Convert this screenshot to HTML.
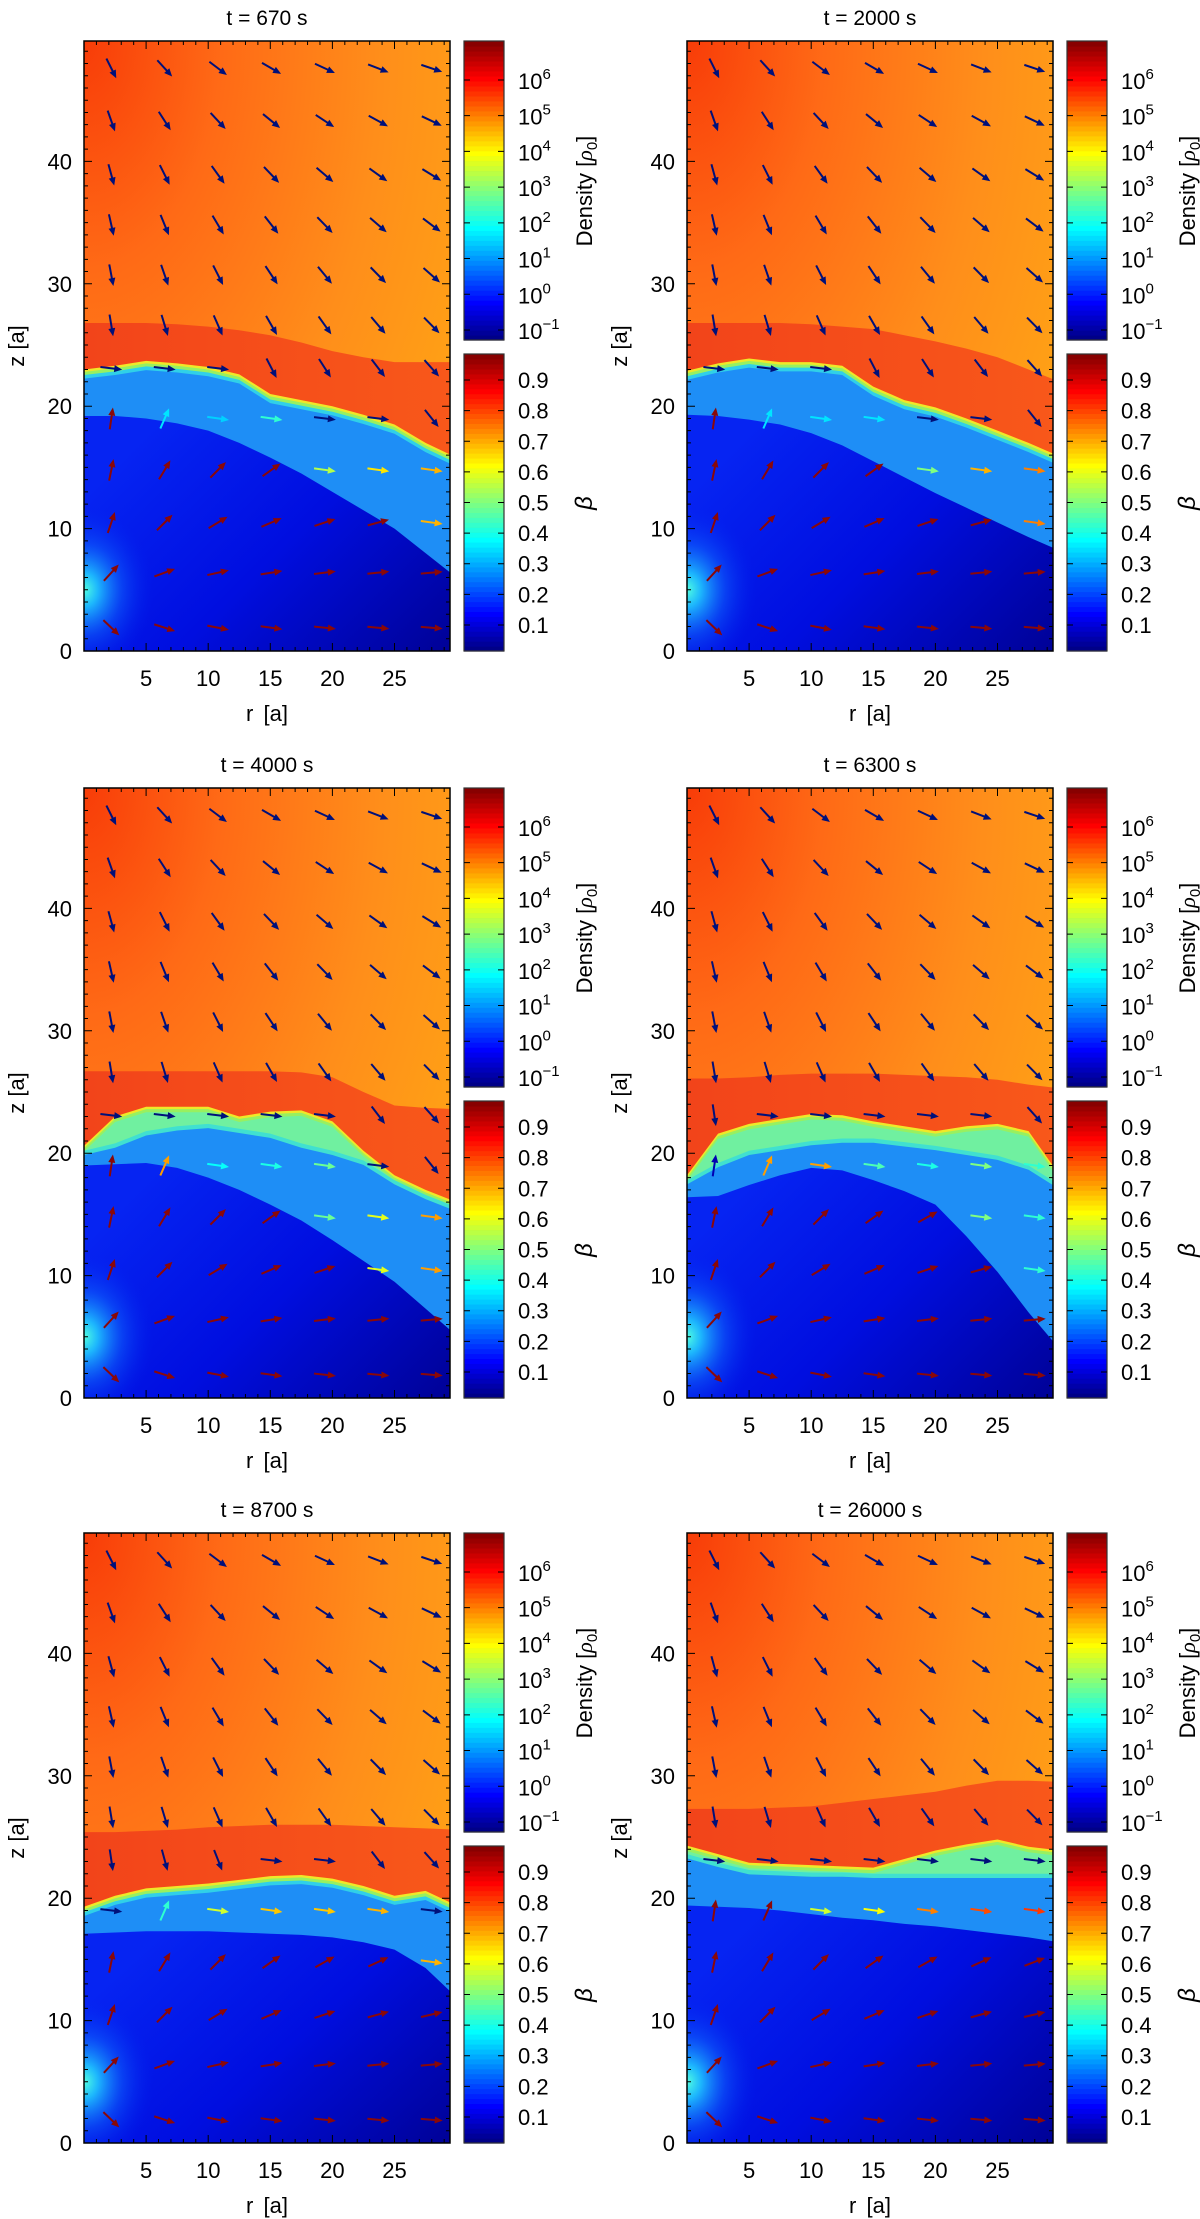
<!DOCTYPE html>
<html><head><meta charset="utf-8"><title>Density and beta maps</title>
<style>
html,body{margin:0;padding:0;background:#fff;}
svg{display:block;}
text{font-family:"Liberation Sans",sans-serif;fill:#000;}
</style></head>
<body>
<svg id="fig" xmlns="http://www.w3.org/2000/svg" width="1200" height="2219" viewBox="0 0 1200 2219"></svg>
<script>
// ---- data ----
const titles = ["t = 670 s","t = 2000 s","t = 4000 s","t = 6300 s","t = 8700 s","t = 26000 s"];
const rGrid = [0,2.5,5,7.5,10,12.5,15,17.5,20,22.5,25,27.5,30];
const shellTop = [
 [26.8,26.8,26.8,26.7,26.5,26.2,25.8,25.2,24.5,24.0,23.6,23.6,23.6],
 [26.8,26.8,26.8,26.8,26.7,26.5,26.3,25.8,25.3,24.7,24.0,23.0,22.0],
 [26.7,26.7,26.7,26.7,26.7,26.7,26.7,26.6,26.2,25.0,23.9,23.7,23.6],
 [26.1,26.1,26.2,26.4,26.5,26.5,26.5,26.4,26.3,26.2,26.0,25.6,25.3],
 [25.4,25.4,25.5,25.6,25.8,25.9,26.0,26.0,26.0,25.9,25.8,25.7,25.6],
 [27.3,27.3,27.3,27.4,27.5,27.8,28.1,28.4,28.7,29.2,29.6,29.6,29.5]
];
const shellBot = [
 [23.0,23.3,23.7,23.5,23.2,22.6,21.0,20.5,20.0,19.3,18.5,17.0,15.8],
 [22.9,23.5,23.9,23.6,23.6,23.3,21.6,20.5,19.9,19.0,18.0,17.0,15.9],
 [20.6,23.0,23.8,23.8,23.8,23.0,23.4,23.5,22.6,20.2,18.2,17.0,16.0],
 [18.2,21.6,22.4,22.8,23.2,23.1,22.6,22.2,21.8,22.2,22.4,21.8,18.2],
 [19.3,20.2,20.8,21.0,21.2,21.5,21.8,21.9,21.6,21.0,20.2,20.6,19.4],
 [24.3,23.6,22.9,22.8,22.7,22.6,22.5,23.2,23.9,24.4,24.8,24.2,23.9]
];
const greenBot = [
 null,
 null,
 [20.2,20.8,21.8,22.2,22.4,22.0,21.6,20.8,20.2,19.4,17.8,16.6,15.6],
 [17.8,19.2,20.2,20.6,21.0,21.2,21.2,20.9,20.6,20.2,19.8,19.0,17.4],
 null,
 [23.6,22.9,22.3,22.2,22.1,22.1,22.0,22.0,22.0,22.0,22.0,22.0,22.0]
];
const innerBound = [
 [19.2,19.2,19.0,18.6,18.0,17.0,15.8,14.5,13.0,11.5,10.0,8.0,6.0],
 [19.3,19.2,18.9,18.5,17.8,16.8,15.5,14.2,12.9,11.7,10.5,9.3,8.2],
 [19.0,19.1,19.2,18.8,18.0,17.0,15.8,14.5,12.9,11.2,9.5,7.3,5.1],
 [16.4,16.5,17.4,18.2,18.8,18.6,17.8,16.9,15.8,13.2,10.3,7.0,4.0],
 [17.1,17.2,17.3,17.3,17.3,17.2,17.1,17.0,16.8,16.4,15.8,14.3,11.9],
 [19.4,19.3,19.2,19.0,18.7,18.4,18.2,17.9,17.7,17.4,17.1,16.8,16.4]
];
const arrowR = [2.2,6.5,10.8,15.1,19.4,23.7,28.0];
const arrowZ = [1.9,6.4,10.5,14.8,19.0,23.1,26.6,30.7,34.8,38.9,43.3,47.6];
const midBeta = [
 [0.70,0.35,0.33,0.42,0.55,0.65,0.70],
 [0.90,0.35,0.35,0.35,0.50,0.70,0.75],
 [0.70,0.72,0.38,0.40,0.48,0.60,0.72],
 [0.05,0.72,0.72,0.45,0.40,0.50,0.42],
 [0.05,0.42,0.58,0.68,0.68,0.70,0.70],
 [0.90,0.60,0.58,0.62,0.75,0.80,0.82]
];
const densTicks = [-1,0,1,2,3,4,5,6];
const densRange = [-1.28,7.09];
const betaTicks = [0.1,0.2,0.3,0.4,0.5,0.6,0.7,0.8,0.9];
const betaRange = [0.015,0.985];
const zTicks = [0,10,20,30,40];
const rTicks = [5,10,15,20,25];

// ---- helpers ----
const NS = "http://www.w3.org/2000/svg";
const svg = document.getElementById("fig");
function mk(tag, attrs, parent){
  const e = document.createElementNS(NS, tag);
  for (const k in attrs) e.setAttribute(k, attrs[k]);
  (parent||svg).appendChild(e);
  return e;
}
function clamp(v){return Math.max(0,Math.min(1,v));}
function jet(t){
  const r=clamp(Math.min(4*t-1.5,-4*t+4.5)), g=clamp(Math.min(4*t-0.5,-4*t+3.5)), b=clamp(Math.min(4*t+0.5,-4*t+2.5));
  return "rgb("+Math.round(r*255)+","+Math.round(g*255)+","+Math.round(b*255)+")";
}
function interp(arr, r){
  const step = rGrid[1]-rGrid[0];
  let i = Math.floor(r/step); if (i<0) i=0; if (i>=arr.length-1) i=arr.length-2;
  const f = (r - rGrid[i])/step;
  return arr[i]*(1-f)+arr[i+1]*f;
}

const defs = mk("defs",{});
defs.innerHTML = `
<radialGradient id="gUpper" cx="0" cy="0" r="1.25" gradientUnits="objectBoundingBox">
 <stop offset="0" stop-color="#f83c08"/><stop offset="0.3" stop-color="#ff6a16"/>
 <stop offset="0.65" stop-color="#ff8e1a"/><stop offset="1" stop-color="#ffa614"/></radialGradient>
<linearGradient id="gShell" x1="0" y1="0" x2="1" y2="0">
 <stop offset="0" stop-color="#f2441a"/><stop offset="1" stop-color="#f8581a"/></linearGradient>
<linearGradient id="gDark" x1="0" y1="0.3" x2="1" y2="1">
 <stop offset="0" stop-color="#0624f2"/><stop offset="0.45" stop-color="#000ee0"/><stop offset="1" stop-color="#00008e"/></linearGradient>
<radialGradient id="gGlow" cx="0.5" cy="0.5" r="0.5">
 <stop offset="0" stop-color="#50ffe0"/><stop offset="0.2" stop-color="#20c8ff" stop-opacity="0.9"/>
 <stop offset="0.55" stop-color="#1070ff" stop-opacity="0.45"/><stop offset="1" stop-color="#0020f0" stop-opacity="0"/></radialGradient>
`;

const PW = 366, PH = 610;
const colX = [84, 687];
const rowY = [41, 788, 1533];

function drawPanel(i){
  const px = colX[i%2], py = rowY[Math.floor(i/2)];
  const X = r => px + r*12.42;
  const Y = z => py + PH - z*12.24;
  const g = mk("g",{});
  
  

  const clipId = "clip"+i;
  const cp = mk("clipPath",{id:clipId}, defs);
  mk("rect",{x:px,y:py,width:PW,height:PH}, cp);
  const hm = mk("g",{"clip-path":"url(#"+clipId+")"}, g);
  
  

  function areaBelow(arr, off){
    let d = "M"+X(0)+","+Y(arr[0]+off);
    for (let k=1;k<rGrid.length;k++) d += " L"+X(rGrid[k])+","+Y(arr[k]+off);
    d += " L"+X(30)+","+Y(-2)+" L"+X(0)+","+Y(-2)+"Z";
    return d;
  }
  mk("rect",{x:px,y:py,width:PW,height:PH,fill:"url(#gUpper)"}, hm);
  const sh = mk("path",{d:areaBelow(shellTop[i],0),fill:"url(#gShell)"}, hm);
  
  
  mk("path",{d:areaBelow(shellBot[i],0),fill:"#f0e828"}, hm);
  mk("path",{d:areaBelow(shellBot[i],-0.2),fill:"#98f060"}, hm);
  const gb = greenBot[i];
  if (gb){
    mk("path",{d:areaBelow(shellBot[i],-0.45),fill:"#70f0a0"}, hm);
    mk("path",{d:areaBelow(gb,0),fill:"#40e0d0"}, hm);
    mk("path",{d:areaBelow(gb,-0.35),fill:"#1e8ef6"}, hm);
  } else {
    mk("path",{d:areaBelow(shellBot[i],-0.45),fill:"#30d0e8"}, hm);
    mk("path",{d:areaBelow(shellBot[i],-0.75),fill:"#1e8ef6"}, hm);
  }
  const dk = mk("path",{d:areaBelow(innerBound[i],0),fill:"url(#gDark)"}, hm);
  
  
  mk("ellipse",{cx:X(0),cy:Y(5),rx:70,ry:85,fill:"url(#gGlow)"}, hm);

  // arrows
  const ag = mk("g",{}, hm);
  
  
  for (let c=0;c<arrowR.length;c++){
    for (let rr=0;rr<arrowZ.length;rr++){
      const r = arrowR[c], z = arrowZ[rr];
      const sb = interp(shellBot[i], r), inn = interp(innerBound[i], r);
      let dx, dz, col;
      if (z > sb + 1.5){ dx = r + 3; dz = z - 58; col = "#00107a"; }
      else if (z > sb - 1.5){ dx = 1; dz = -0.12; col = "#00107a"; }
      else if (z > inn){
        col = jet(midBeta[i][c]);
        if (r < 8){ dx = r; dz = z - 4; } else { dx = 1; dz = -0.14; }
      } else { dx = r; dz = z - 4; col = "#8a0808"; }
      const L = Math.hypot(dx, dz); const ux = dx/L, uy = -dz/L;
      const len = 22, cx = X(r), cy = Y(z);
      const x1 = cx - ux*len/2, y1 = cy - uy*len/2, x2 = cx + ux*len/2, y2 = cy + uy*len/2;
      const a = mk("g",{}, ag);
      
      
      mk("line",{x1:x1,y1:y1,x2:x2-ux*5,y2:y2-uy*5,stroke:col,"stroke-width":2}, a);
      const hx = x2 - ux*8, hy = y2 - uy*8;
      mk("polygon",{points:x2+","+y2+" "+(hx-uy*3.5)+","+(hy+ux*3.5)+" "+(hx+uy*3.5)+","+(hy-ux*3.5),fill:col}, a);
    }
  }

  // frame and ticks
  const fr = mk("rect",{x:px,y:py,width:PW,height:PH,fill:"none",stroke:"#000","stroke-width":1.5}, g);
  
  
  let td = "";
  for (let z=1; z<50; z++){
    const l = (z%10===0)?8:4, y = Y(z);
    td += "M"+px+","+y+"h"+l+"M"+(px+PW)+","+y+"h"+(-l);
  }
  for (let r=1; r<30; r++){
    const l = (r%5===0)?8:4, x = X(r);
    td += "M"+x+","+(py+PH)+"v"+(-l)+"M"+x+","+py+"v"+l;
  }
  mk("path",{d:td,stroke:"#000","stroke-width":1,fill:"none"}, g);

  const tt = mk("text",{x:px+PW/2,y:py-16,"text-anchor":"middle","font-size":21}, g);
  tt.textContent = titles[i];
  
  
  for (const z of zTicks){
    const t = mk("text",{x:px-12,y:Y(z)+8,"text-anchor":"end","font-size":22}, g);
    t.textContent = z;
    
    
  }
  for (const r of rTicks){
    const t = mk("text",{x:X(r),y:py+PH+35,"text-anchor":"middle","font-size":22}, g);
    t.textContent = r;
    
    
  }
  const xl = mk("text",{x:px+PW/2,y:py+PH+70,"text-anchor":"middle","font-size":22,"word-spacing":"4"}, g);
  xl.textContent = "r [a]";
  
  
  const yl = mk("text",{x:0,y:0,"text-anchor":"middle","font-size":22,transform:"translate("+(px-60)+","+(py+PH/2)+") rotate(-90)"}, g);
  yl.textContent = "z [a]";
  
  

  // colorbars
  const cbx = px + 380, cbw = 40;
  function colorbar(top, bot, range, ticks, name, labelFn){
    const cb = mk("g",{}, g);
    
    
    const n = 60, h = (bot-top)/n;
    for (let k=0;k<n;k++){
      mk("rect",{x:cbx,y:bot-(k+1)*h,width:cbw,height:h+0.6,fill:jet((k+0.5)/n)}, cb);
      mk("line",{x1:cbx,y1:bot-(k+1)*h,x2:cbx+cbw,y2:bot-(k+1)*h,stroke:"#000","stroke-opacity":0.08,"stroke-width":1}, cb);
    }
    mk("rect",{x:cbx,y:top,width:cbw,height:bot-top,fill:"none",stroke:"#333","stroke-width":1.2}, cb);
    for (const v of ticks){
      const y = bot - (v-range[0])/(range[1]-range[0])*(bot-top);
      mk("path",{d:"M"+cbx+","+y+"h6M"+(cbx+cbw)+","+y+"h-6",stroke:"#000","stroke-width":1}, cb);
      labelFn(v, y, cb);
    }
  }
  colorbar(py, py+299, densRange, densTicks, 'density-colorbar', (v,y,p)=>{
    const t = mk("text",{x:cbx+54,y:y+9,"font-size":22}, p);
    t.appendChild(document.createTextNode("10"));
    const s = mk("tspan",{"font-size":15,dy:-10}, t);
    s.textContent = v<0 ? "\u2212"+(-v) : String(v);
    
    
  });
  colorbar(py+313, py+PH, betaRange, betaTicks, 'beta-colorbar', (v,y,p)=>{
    const t = mk("text",{x:cbx+54,y:y+8,"font-size":22}, p);
    t.textContent = v.toFixed(1);
    
    
  });
  const dl = mk("text",{x:0,y:0,"text-anchor":"middle","font-size":22,transform:"translate("+(px+508)+","+(py+150)+") rotate(-90)"}, g);
  dl.appendChild(document.createTextNode("Density ["));
  const rho = mk("tspan",{"font-style":"italic","font-family":"Liberation Serif, serif"}, dl); rho.textContent = "\u03C1";
  const sub = mk("tspan",{"font-size":15,dy:5}, dl); sub.textContent = "0";
  const cl = mk("tspan",{dy:-5}, dl); cl.textContent = "]";
  
  
  const bl = mk("text",{x:0,y:0,"text-anchor":"middle","font-size":24,"font-style":"italic","font-family":"Liberation Serif, serif",transform:"translate("+(px+508)+","+(py+462)+") rotate(-90)"}, g);
  bl.textContent = "\u03B2";
  
  
}
for (let i=0;i<6;i++) drawPanel(i);
</script>
</body></html>
